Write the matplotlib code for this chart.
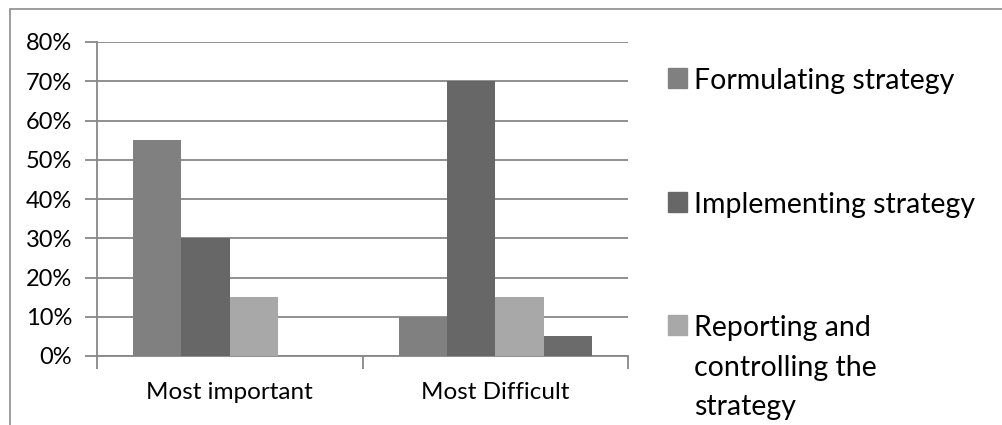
import numpy as np
import matplotlib
matplotlib.use('Agg')
import matplotlib.pyplot as plt
from matplotlib.patches import Rectangle
from matplotlib.ticker import PercentFormatter

plt.rcParams['font.family'] = ['Lato', 'DejaVu Sans']

# survey answers, share of respondents
categories = ['Most important', 'Most Difficult']
series_names = ['Formulating strategy', 'Implementing strategy',
                'Reporting and\ncontrolling the\nstrategy', '']
formulating = [0.55, 0.10]
implementing = [0.30, 0.70]
reporting = [0.15, 0.15]
other = [0.0, 0.05]
yticks = [0.0, 0.1, 0.2, 0.3, 0.4, 0.5, 0.6, 0.7, 0.8]

colors = ['#808080', '#676767', '#a8a8a8', '#6b6b6b']
all_series = [formulating, implementing, reporting, other]

fig = plt.figure(figsize=(10.02, 4.25), dpi=100)
W, H = 1002, 425

# chart area frame
fig.add_artist(Rectangle((10 / W, -0.1), 1.2, (H - 9) / H + 0.1,
                         transform=fig.transFigure, fill=False,
                         edgecolor='#8c8c8c', linewidth=1.2))

ax = fig.add_axes([97 / W, (H - 356) / H, (628 - 97) / W, (356 - 42) / H])

n = len(all_series)
bw = 1.0 / (n + 1.5)
x = np.arange(len(categories))
for k, (vals, col) in enumerate(zip(all_series, colors)):
    offs = (k - (n - 1) / 2) * bw
    ax.bar(x + offs, vals, bw, color=col, zorder=3, linewidth=0)

ax.set_xlim(-0.5, len(categories) - 0.5)
ax.set_ylim(0, 0.8)
ax.set_yticks(yticks)
ax.yaxis.set_major_formatter(PercentFormatter(1.0, decimals=0))
ax.grid(axis='y', color='#878787', linewidth=1.3, zorder=0)
ax.set_axisbelow(True)

# category boundaries carry the tick marks, labels sit in the middle
ax.set_xticks(np.arange(len(categories) + 1) - 0.5)
ax.set_xticklabels([])
ax.set_xticks(x, minor=True)
ax.set_xticklabels(categories, minor=True, fontsize=17.5)
ax.tick_params(axis='x', which='minor', length=0, pad=19)
ax.tick_params(axis='x', which='major', length=9, width=1.3, color='#878787')
ax.tick_params(axis='y', length=9, width=1.3, color='#878787', labelsize=17, pad=9)

for s in ['top', 'right']:
    ax.spines[s].set_visible(False)
for s in ['left', 'bottom']:
    ax.spines[s].set_color('#878787')
    ax.spines[s].set_linewidth(1.3)

# legend drawn by hand, entries spaced far apart
leg_base = [88, 212, 335]
for name, col, yb in zip(series_names[:3], colors[:3], leg_base):
    fig.add_artist(Rectangle((668 / W, (H - yb) / H), 19 / W, 20 / H,
                             transform=fig.transFigure, color=col))
    fig.text(694 / W, (H - yb + 20) / H, name, fontsize=20.5, va='top',
             ha='left', linespacing=1.65)

fig.savefig('out.png', dpi=100)
